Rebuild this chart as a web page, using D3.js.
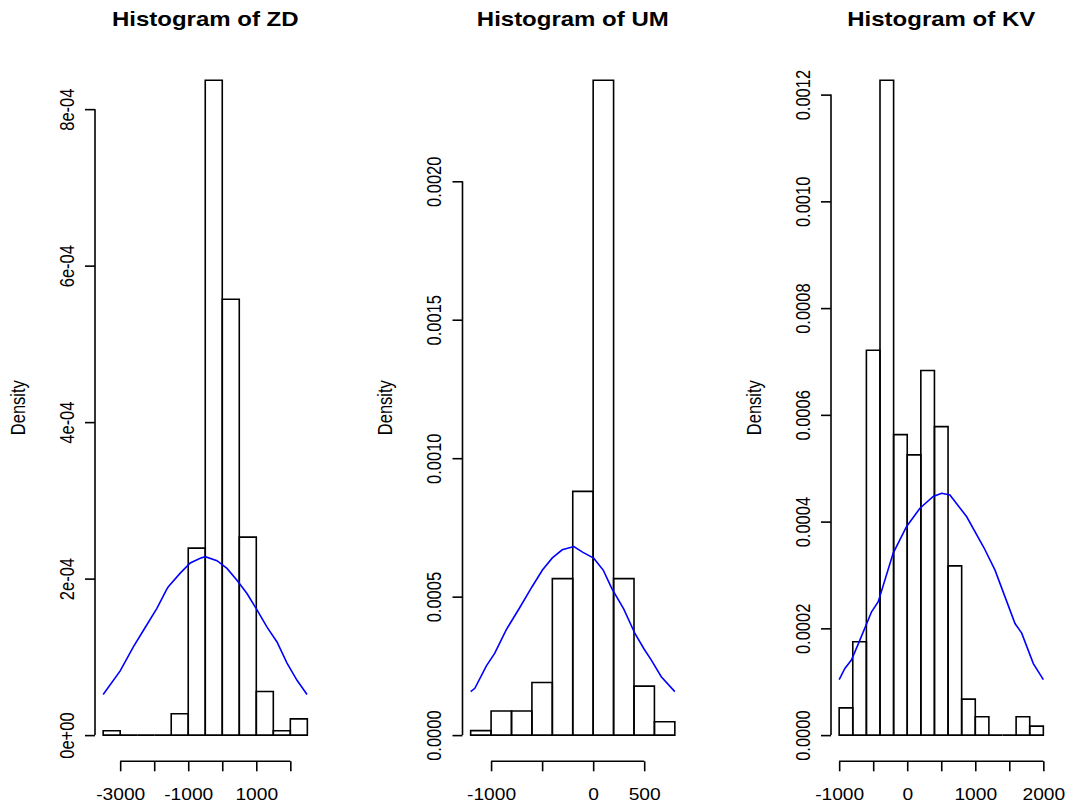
<!DOCTYPE html>
<html lang="en">
<head>
    <meta charset="UTF-8">
    <title>Histograms of ZD, UM and KV</title>
    <script src="https://d3js.org/d3.v7.min.js"></script>
    <style>
        body {
            margin: 0;
            background-color: #ffffff;
        }
        svg text {
            font-family: 'Liberation Sans', Arial, sans-serif;
            fill: #000;
        }
    </style>
</head>
<body>
    <div id="chart"></div>
    <script>
        // ---- ZD ----
        const zdBreaks = [-3500, -3000, -2500, -2000, -1500, -1000, -500, 0, 500, 1000, 1500, 2000, 2500];
        const zdDensity = [5.5e-6, 0, 0, 0, 2.73e-5, 2.39e-4, 8.37e-4, 5.57e-4, 2.53e-4, 5.58e-5, 5.5e-6, 2.08e-5];
        const zdCurveX = [-3500, -3000, -2609, -2315, -1921, -1626, -1579, -1235, -941, -647, -500, -156, 138, 432, 726, 1021, 1315, 1609, 1903, 2197, 2491];
        const zdCurveY = [5.2e-5, 8.2e-5, 1.13e-4, 1.34e-4, 1.62e-4, 1.87e-4, 1.90e-4, 2.07e-4, 2.20e-4, 2.26e-4, 2.28e-4, 2.23e-4, 2.13e-4, 1.98e-4, 1.81e-4, 1.60e-4, 1.38e-4, 1.19e-4, 9.2e-5, 7.0e-5, 5.2e-5];
        const zdXTicks = [-3000, -2000, -1000, 0, 1000, 2000];
        const zdXLabels = ["-3000", "", "-1000", "", "1000", ""];
        const zdYTicks = [0, 2e-4, 4e-4, 6e-4, 8e-4];
        const zdYLabels = ["0e+00", "2e-04", "4e-04", "6e-04", "8e-04"];

        // ---- UM ----
        const umBreaks = [-1200, -1000, -800, -600, -400, -200, 0, 200, 400, 600, 800];
        const umDensity = [1.6e-5, 8.7e-5, 8.7e-5, 1.9e-4, 5.65e-4, 8.8e-4, 2.365e-3, 5.65e-4, 1.77e-4, 4.8e-5];
        const umCurveX = [-1200, -1159, -1046, -965, -852, -723, -600, -497, -400, -303, -189, -100, 5, 100, 182, 300, 409, 500, 570, 667, 800];
        const umCurveY = [1.57e-4, 1.69e-4, 2.5e-4, 2.95e-4, 3.8e-4, 4.58e-4, 5.35e-4, 5.96e-4, 6.4e-4, 6.69e-4, 6.81e-4, 6.6e-4, 6.39e-4, 5.95e-4, 5.3e-4, 4.55e-4, 3.67e-4, 3.1e-4, 2.71e-4, 2.11e-4, 1.57e-4];
        const umXTicks = [-1000, -500, 0, 500];
        const umXLabels = ["-1000", "", "0", "500"];
        const umYTicks = [0, 0.0005, 0.0010, 0.0015, 0.0020];
        const umYLabels = ["0.0000", "0.0005", "0.0010", "0.0015", "0.0020"];

        // ---- KV ----
        const kvBreaks = [-1000, -800, -600, -400, -200, 0, 200, 400, 600, 800, 1000, 1200, 1400, 1600, 1800, 2000];
        const kvDensity = [5.1e-5, 1.75e-4, 7.21e-4, 1.227e-3, 5.63e-4, 5.25e-4, 6.83e-4, 5.78e-4, 3.17e-4, 6.75e-5, 3.44e-5, 0, 0, 3.44e-5, 1.69e-5];
        const kvCurveX = [-1000, -916, -818, -696, -524, -426, -206, -9, 187, 382, 506, 628, 874, 1128, 1290, 1437, 1584, 1682, 1853, 2000];
        const kvCurveY = [1.04e-4, 1.25e-4, 1.41e-4, 1.78e-4, 2.31e-4, 2.5e-4, 3.41e-4, 3.91e-4, 4.25e-4, 4.47e-4, 4.53e-4, 4.5e-4, 4.09e-4, 3.51e-4, 3.09e-4, 2.59e-4, 2.09e-4, 1.91e-4, 1.34e-4, 1.04e-4];
        const kvXTicks = [-1000, -500, 0, 500, 1000, 1500, 2000];
        const kvXLabels = ["-1000", "", "0", "", "1000", "", "2000"];
        const kvYTicks = [0, 0.0002, 0.0004, 0.0006, 0.0008, 0.0010, 0.0012];
        const kvYLabels = ["0.0000", "0.0002", "0.0004", "0.0006", "0.0008", "0.0010", "0.0012"];

        const panels = [
            { name: "ZD", breaks: zdBreaks, density: zdDensity, cx: zdCurveX, cy: zdCurveY,
              xTicks: zdXTicks, xLabels: zdXLabels, yTicks: zdYTicks, yLabels: zdYLabels, left: 95 },
            { name: "UM", breaks: umBreaks, density: umDensity, cx: umCurveX, cy: umCurveY,
              xTicks: umXTicks, xLabels: umXLabels, yTicks: umYTicks, yLabels: umYLabels, left: 462.5 },
            { name: "KV", breaks: kvBreaks, density: kvDensity, cx: kvCurveX, cy: kvCurveY,
              xTicks: kvXTicks, xLabels: kvXLabels, yTicks: kvYTicks, yLabels: kvYLabels, left: 831 }
        ];

        const width = 1075, height = 809;
        const plotW = 220.5, plotTop = 54, plotBottom = 761.3;
        const stretch = 1.2; // text in the reference is wider than tall

        const svg = d3.select("#chart")
            .append("svg")
            .attr("width", width)
            .attr("height", height);

        panels.forEach(p => {
            const b0 = p.breaks[0], b1 = p.breaks[p.breaks.length - 1];
            const pad = 0.04 * (b1 - b0);
            const xs = d3.scaleLinear().domain([b0 - pad, b1 + pad]).range([p.left, p.left + plotW]);
            const maxD = d3.max(p.density);
            const ys = d3.scaleLinear().domain([-0.04 * maxD, 1.04 * maxD]).range([plotBottom, plotTop]);
            const cxm = p.left + plotW / 2;

            // title
            svg.append("text")
                .attr("transform", `translate(${cxm},26) scale(${stretch},1)`)
                .attr("text-anchor", "middle")
                .style("font-size", "20px")
                .style("font-weight", "bold")
                .text("Histogram of " + p.name);

            // y label
            svg.append("text")
                .attr("transform", `translate(${p.left - 77},${(plotTop + plotBottom) / 2}) scale(${stretch},1) rotate(-90)`)
                .attr("text-anchor", "middle")
                .attr("dy", "0.35em")
                .style("font-size", "16.5px")
                .text("Density");

            // bars
            const bins = p.density.map((d, i) => ({ x0: p.breaks[i], x1: p.breaks[i + 1], d: d }));
            svg.append("g").selectAll("path")
                .data(bins)
                .join("path")
                .attr("d", b => `M${xs(b.x0)},${ys(0)}V${ys(b.d)}H${xs(b.x1)}V${ys(0)}Z`)
                .attr("fill", "none")
                .attr("stroke", "#000")
                .attr("stroke-width", 1.6);

            // normal curve
            const line = d3.line().x(d => xs(d[0])).y(d => ys(d[1]));
            svg.append("path")
                .datum(d3.zip(p.cx, p.cy))
                .attr("d", line)
                .attr("fill", "none")
                .attr("stroke", "#0000ff")
                .attr("stroke-width", 1.6);

            // x axis
            const xAxis = d3.axisBottom(xs)
                .tickValues(p.xTicks)
                .tickFormat((d, i) => p.xLabels[i])
                .tickSize(10);
            const gx = svg.append("g")
                .attr("transform", `translate(0,${plotBottom})`)
                .call(xAxis);
            gx.select(".domain").remove();
            gx.append("line")
                .attr("x1", xs(p.xTicks[0])).attr("x2", xs(p.xTicks[p.xTicks.length - 1]))
                .attr("stroke", "#000").attr("stroke-width", 1.6);
            gx.selectAll(".tick line").attr("stroke-width", 1.6);
            gx.selectAll(".tick text")
                .attr("y", null).attr("dy", null)
                .attr("transform", `translate(0,38.7) scale(${stretch},1)`)
                .style("font-size", "16px")
                .style("font-family", "'Liberation Sans', Arial, sans-serif")
                .attr("fill", "#000");

            // y axis
            const yAxis = d3.axisLeft(ys)
                .tickValues(p.yTicks)
                .tickFormat((d, i) => p.yLabels[i])
                .tickSize(10);
            const gy = svg.append("g")
                .attr("transform", `translate(${p.left},0)`)
                .call(yAxis);
            gy.select(".domain").remove();
            gy.append("line")
                .attr("y1", ys(p.yTicks[0])).attr("y2", ys(p.yTicks[p.yTicks.length - 1]))
                .attr("stroke", "#000").attr("stroke-width", 1.6);
            gy.selectAll(".tick line").attr("stroke-width", 1.6);
            gy.selectAll(".tick text")
                .attr("x", null)
                .attr("text-anchor", "middle")
                .attr("dy", "0.35em")
                .attr("transform", `translate(-28,0) scale(${stretch},1) rotate(-90)`)
                .style("font-size", "16.5px")
                .style("font-family", "'Liberation Sans', Arial, sans-serif")
                .attr("fill", "#000");
        });
    </script>
</body>
</html>
